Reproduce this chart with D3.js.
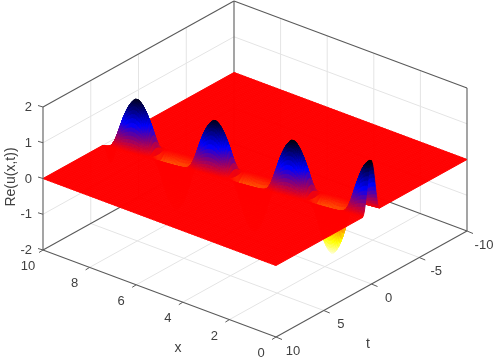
<!DOCTYPE html>
<html>
<head>
<meta charset="utf-8">
<script src="https://cdn.jsdelivr.net/npm/d3@7"></script>
<style>
body { margin: 0; background: #fff; }
svg { filter: blur(0.35px); }
text { font-family: "Liberation Sans", Arial, sans-serif; fill: #404040; }
</style>
</head>
<body>
<script>
var xTicks = [0, 2, 4, 6, 8, 10];
var tTicks = [-10, -5, 0, 5, 10];
var zTicks = [-2, -1, 0, 1, 2];

// crest line of the ridge, read from the four peaks
var crestX = [0, 3, 6, 9];
var crestT = [0.05, 0.9, 1.75, 2.6];

// height along the crest, one value per 0.0625 in x, from x = 0 to x = 10
var ridgeZ = [
    1.46, 1.45, 1.41, 1.36, 1.29, 1.2, 1.09, .96, .82, .66, .49, .31, .14, -.04, -.22, -.41, -.6, -.78, -.95, -1.08, -1.2, -1.29, -1.36, -1.41, -1.43,
    -1.41, -1.36, -1.29, -1.2, -1.08, -.95, -.78, -.6, -.41, -.22, -.04, .14, .31, .48, .64, .8, .93, 1.05, 1.15, 1.24, 1.31, 1.37, 1.41, 1.42,
    1.41, 1.37, 1.31, 1.24, 1.15, 1.05, .93, .8, .64, .48, .31, .14, -.04, -.22, -.41, -.6, -.78, -.95, -1.08, -1.2, -1.28, -1.35, -1.39, -1.41,
    -1.39, -1.35, -1.28, -1.2, -1.08, -.95, -.78, -.6, -.41, -.22, -.04, .14, .3, .47, .63, .78, .91, 1.02, 1.12, 1.2, 1.27, 1.32, 1.36, 1.37,
    1.36, 1.32, 1.27, 1.2, 1.12, 1.02, .91, .78, .63, .47, .3, .14, -.04, -.22, -.41, -.6, -.78, -.95, -1.08, -1.2, -1.28, -1.34, -1.38, -1.4,
    -1.38, -1.34, -1.28, -1.2, -1.08, -.95, -.78, -.6, -.41, -.22, -.04, .14, .3, .47, .63, .78, .9, 1.01, 1.11, 1.19, 1.26, 1.31, 1.35, 1.36,
    1.35, 1.31, 1.26, 1.19, 1.11, 1.01, .9, .78, .63, .47, .3, .14, -.04, -.22, -.41, -.6
];

// cross section of the ridge, distance from crest in t and share of the height
var profileOffset = [0, .05, .1, .15, .2, .25, .3, .35, .4, .45, .5, .55, .6, .65, .7, .75, .8, .85, .9];
var profileShare = [1, .99, .96, .92, .87, .8, .72, .64, .55, .46, .38, .3, .23, .16, .1, .06, .03, .01, 0];

var width = 498, height = 359;

var svg = d3.select("body").append("svg")
    .attr("width", width)
    .attr("height", height)
    .style("display", "block");

// oblique view of the box, each scale gives the screen shift along one data axis
var xToPx = d3.scaleLinear().domain([10, 0]).range([0, 233]);
var xToPy = d3.scaleLinear().domain([10, 0]).range([0, 87]);
var tToPx = d3.scaleLinear().domain([10, -10]).range([0, 191]);
var tToPy = d3.scaleLinear().domain([10, -10]).range([0, -106]);
var zToPy = d3.scaleLinear().domain([-2, 2]).range([250, 107]);

function project(x, t, z) {
    return [43 + xToPx(x) + tToPx(t), zToPy(z) + xToPy(x) + tToPy(t)];
}

var color = d3.scaleLinear()
    .domain([-1.45, -1, 0, .7, 1.45])
    .range(["#ffffe8", "#ffff00", "#ff0000", "#0000ff", "#000000"]);

var line3 = d3.line();

function seg(g, a, b, stroke, w) {
    g.append("path")
        .attr("d", line3([project(a[0], a[1], a[2]), project(b[0], b[1], b[2])]))
        .attr("fill", "none")
        .attr("stroke", stroke)
        .attr("stroke-width", w);
}

var grid = svg.append("g");
var gridColor = "#e4e4e4", boxColor = "#5a5a5a";

xTicks.slice(1, -1).forEach(function (x) {
    seg(grid, [x, -10, -2], [x, -10, 2], gridColor, 1);
    seg(grid, [x, -10, -2], [x, 10, -2], gridColor, 1);
});
tTicks.slice(1, -1).forEach(function (t) {
    seg(grid, [10, t, -2], [10, t, 2], gridColor, 1);
    seg(grid, [10, t, -2], [0, t, -2], gridColor, 1);
});
zTicks.slice(1, -1).forEach(function (z) {
    seg(grid, [10, 10, z], [10, -10, z], gridColor, 1);
    seg(grid, [10, -10, z], [0, -10, z], gridColor, 1);
});

var box = svg.append("g");
seg(box, [10, 10, 2], [10, -10, 2], boxColor, 1.1);
seg(box, [10, -10, 2], [0, -10, 2], boxColor, 1.1);
seg(box, [10, -10, -2], [10, -10, 2], boxColor, 1.1);
seg(box, [0, -10, -2], [0, -10, 2], boxColor, 1.1);
seg(box, [10, 10, -2], [10, -10, -2], boxColor, 1.1);
seg(box, [10, -10, -2], [0, -10, -2], boxColor, 1.1);

// surface, built back to front so nearer quads cover the ones behind
var ridge = d3.scaleLinear().domain(crestX).range(crestT);
var across = profileOffset.slice().reverse().map(function (d, i) {
    return { off: -d, share: profileShare[profileOffset.length - 1 - i] };
}).concat(profileOffset.slice(1).map(function (d, i) {
    return { off: d, share: profileShare[i + 1] };
}));

var rows = ridgeZ.map(function (h, i) {
    var x = i * 0.0625;
    var c = ridge(x);
    var pts = [{ x: x, t: -10, z: 0 }];
    across.forEach(function (a) {
        pts.push({ x: x, t: c + a.off, z: h * a.share });
    });
    pts.push({ x: x, t: 10, z: 0 });
    return pts;
});

var quads = [];
for (var i = rows.length - 1; i > 0; i--) {
    for (var j = 0; j < rows[i].length - 1; j++) {
        quads.push([rows[i][j], rows[i][j + 1], rows[i - 1][j + 1], rows[i - 1][j]]);
    }
}

svg.append("g")
    .selectAll("path")
    .data(quads)
    .enter().append("path")
    .attr("d", function (q) {
        return line3(q.map(function (p) {
            return project(p.x, p.t, p.z);
        })) + "Z";
    })
    .attr("fill", function (q) {
        return color(d3.mean(q, function (p) { return p.z; }));
    })
    .attr("stroke", function (q) {
        return color(d3.mean(q, function (p) { return p.z; }));
    })
    .attr("stroke-width", 1);

// front axes and ticks
var axes = svg.append("g");
seg(axes, [10, 10, -2], [10, 10, 2], boxColor, 1.1);
seg(axes, [10, 10, -2], [0, 10, -2], boxColor, 1.1);
seg(axes, [0, 10, -2], [0, -10, -2], boxColor, 1.1);

zTicks.forEach(function (z) {
    var p = project(10, 10, z);
    axes.append("path").attr("d", line3([p, [p[0] - 5, p[1] - 1.5]]))
        .attr("stroke", boxColor).attr("fill", "none");
    axes.append("text").attr("x", p[0] - 11).attr("y", p[1] + 4)
        .attr("text-anchor", "end").attr("font-size", 13).text(z);
});
xTicks.forEach(function (x) {
    var p = project(x, 10, -2);
    axes.append("path").attr("d", line3([p, [p[0] - 4, p[1] + 2.5]]))
        .attr("stroke", boxColor).attr("fill", "none");
    axes.append("text").attr("x", p[0] - 15).attr("y", p[1] + 20)
        .attr("text-anchor", "middle").attr("font-size", 13).text(x);
});
tTicks.forEach(function (t) {
    var p = project(0, t, -2);
    axes.append("path").attr("d", line3([p, [p[0] + 6, p[1] + 2.5]]))
        .attr("stroke", boxColor).attr("fill", "none");
    axes.append("text").attr("x", p[0] + 17).attr("y", p[1] + 17.5)
        .attr("text-anchor", "middle").attr("font-size", 13).text(t);
});

svg.append("text").attr("x", 178).attr("y", 352).attr("text-anchor", "middle")
    .attr("font-size", 14).text("x");
svg.append("text").attr("x", 368).attr("y", 348).attr("text-anchor", "middle")
    .attr("font-size", 14).text("t");
svg.append("text").attr("transform", "translate(15,177) rotate(-90)")
    .attr("text-anchor", "middle").attr("font-size", 14).text("Re(u(x,t))");
</script>
</body>
</html>
